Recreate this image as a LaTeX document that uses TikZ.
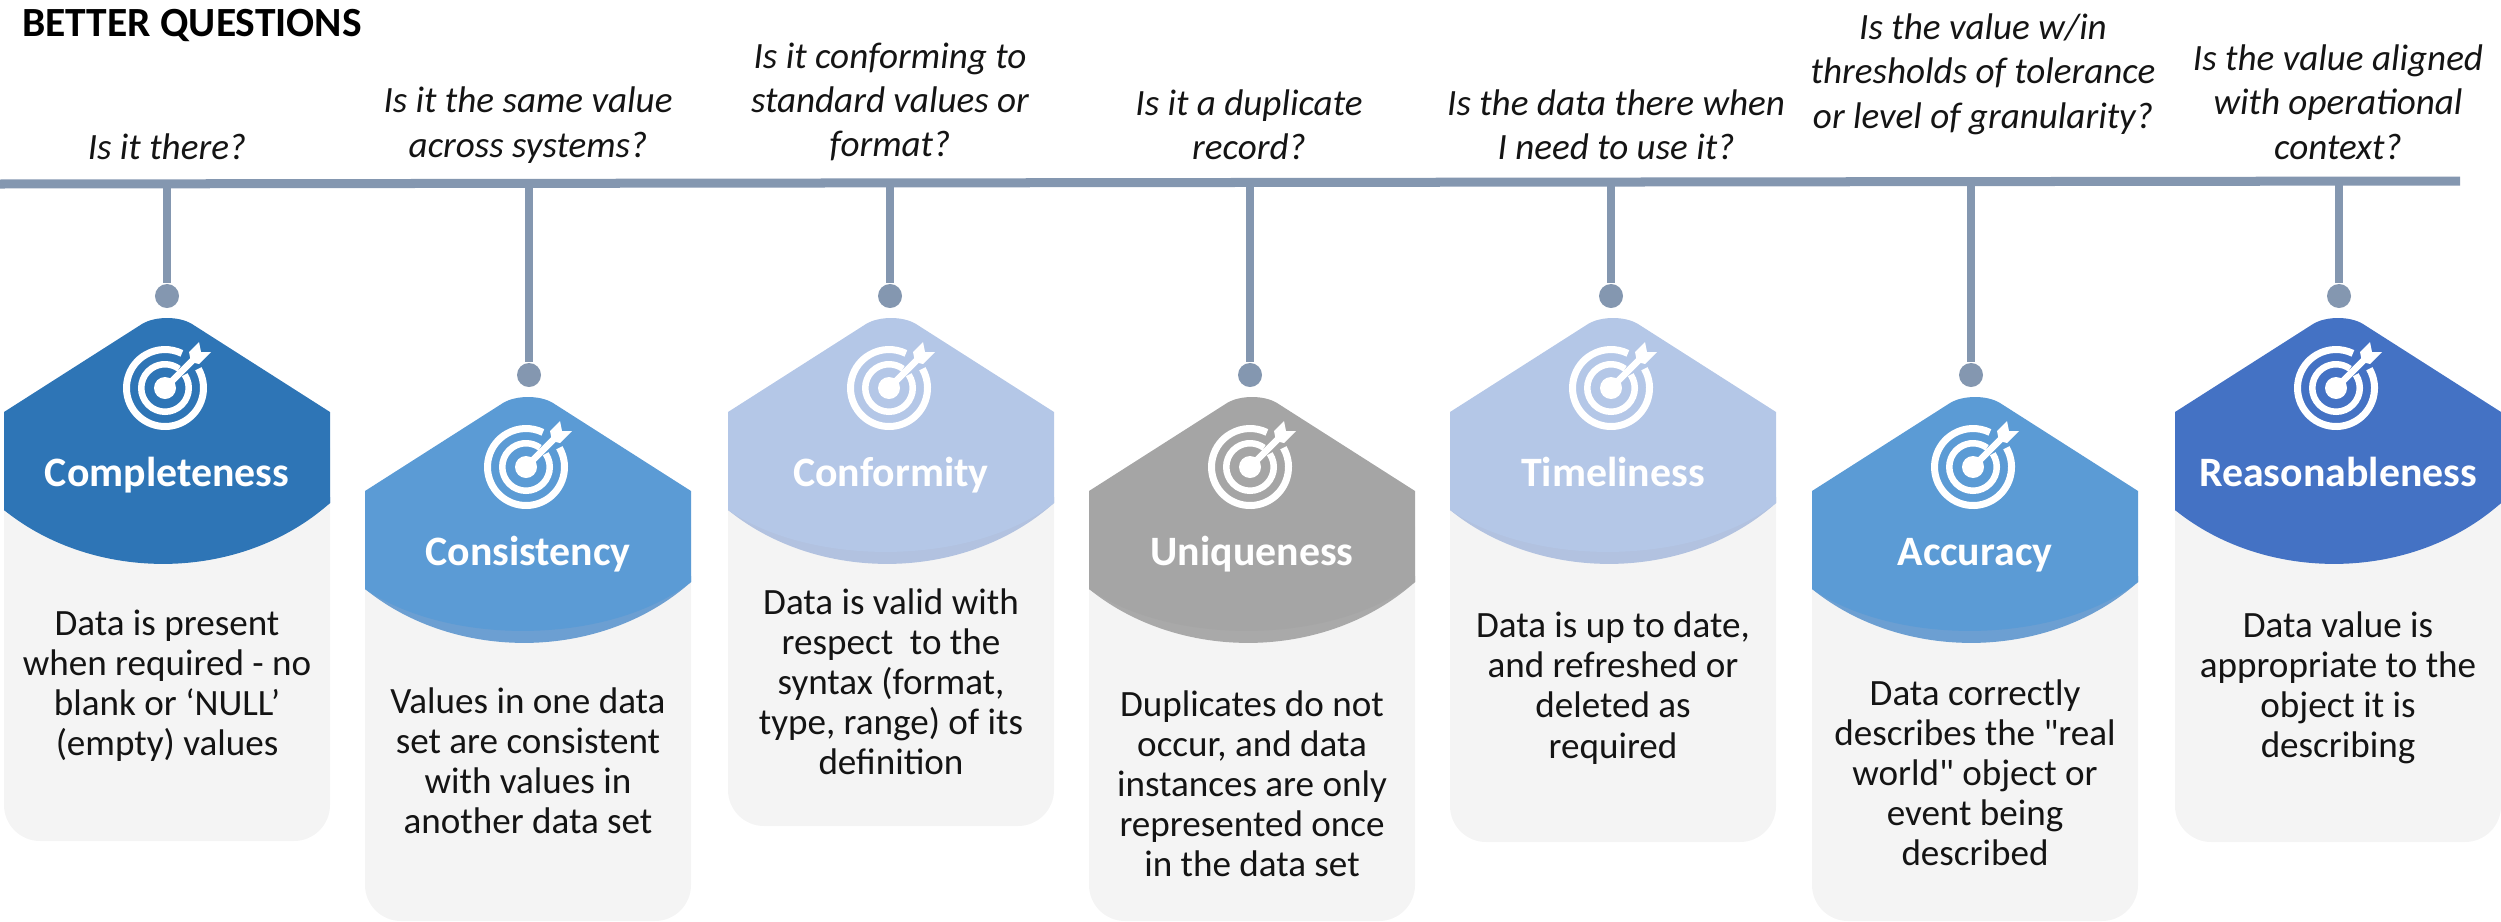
\documentclass[tikz,border=0pt]{standalone}
\usepackage{xcolor}
\usepackage{fontspec}
\setmainfont[Ligatures=TeXOff]{Carlito}
\usepackage{tikz}
\usetikzlibrary{calc}
\definecolor{barblue}{HTML}{8497B0}
\definecolor{cardgrey}{HTML}{F4F4F4}
\definecolor{darkblue}{HTML}{2E75B6}
\definecolor{midblue}{HTML}{5B9BD5}
\definecolor{midedge}{HTML}{6C9FD2}
\definecolor{paleblue}{HTML}{B4C7E7}
\definecolor{paleedge}{HTML}{B2C2E0}
\definecolor{stonegrey}{HTML}{A5A5A5}
\definecolor{stoneedge}{HTML}{A9A9A9}
\definecolor{royalblue}{HTML}{4472C4}
\tikzset{
	bandlabel/.style={text=white, anchor=base, font=\fontsize{11.9}{13}\selectfont\bfseries},
	cardtext/.style={text=black!92, align=center, font=\fontsize{10.55}{11.4}\selectfont},
	question/.style={text=black!92, align=center, font=\fontsize{10.55}{12.6}\selectfont\itshape},
	targeticon/.pic={
		\draw [white, line width=0.07cm] (-30:38.5) arc [start angle=-30, end angle=296, radius=38.5];
		\draw [white, line width=0.065cm] (-34:23.75) arc [start angle=-34, end angle=306, radius=23.75];
		\fill [white] (0,0) circle (11);
		\draw [white, line width=0.065cm] (0,0) -- (30,-30);
		\fill [white] (34,-46) -- (36,-36) -- (46,-36) -- (34,-24) -- (26,-26) -- (24,-36) -- cycle;
	}
}
\begin{document}
\begin{tikzpicture}[x=0.01cm, y=-0.01cm]
		\useasboundingbox (0,0) rectangle (2501,921);
		\node [anchor=west, font=\fontsize{11.8}{13}\selectfont\bfseries] (title) at (10,25) {BETTER QUESTIONS};
		\foreach \nm/\cx/\sx/\ctop/\cbot/\colr/\edgecol/\lbl/\bodyy/\bodytxt/\qx/\qy/\qtxt in {
			compl/167/167/317/841/darkblue/darkblue/Completeness/686/{Data is present\\when required - no\\blank or ‘NULL’\\(empty) values}/167/147/{Is it there?},
			consi/528/529/396/921/midblue/midedge/Consistency/761/{Values in one data\\set are consistent\\with values in\\another data set}/528/125/{Is it the same value\\across systems?},
			confo/891/890/317/826/paleblue/paleedge/Conformity/682/{Data is valid with\\respect\ \ to the\\syntax (format,\\type, range) of its\\definition}/890/102/{Is it conforming to\\standard values or\\format?},
			uniqu/1252/1250/396/921/stonegrey/stoneedge/Uniqueness/784/{Duplicates do not\\occur, and data\\instances are only\\represented once\\in the data set}/1249/125/{Is it a duplicate\\record?},
			timel/1613/1611/317/842/paleblue/paleedge/Timeliness/688/{Data is up to date,\\and refreshed or\\deleted as\\required}/1616/125/{Is the data there when\\I need to use it?},
			accur/1975/1971/396/921/midblue/midedge/Accuracy/773/{Data correctly\\describes the "real\\world" object or\\event being\\described}/1983/74/{Is the value w/in\\thresholds of tolerance\\or level of granularity?},
			reaso/2338/2339/317/842/royalblue/royalblue/Reasonableness/688/{Data value is\\appropriate to the\\object it is\\describing}/2338/102/{Is the value aligned\\with operational\\context?}}
		{
			% card and band
			\fill [cardgrey, rounded corners=0.36cm] (\cx-163,\ctop+95) rectangle (\cx+163,\cbot);
			\fill [\edgecol] (\cx+163,\ctop+186) .. controls (\cx+73,\ctop+266) and (\cx-73,\ctop+266) .. (\cx-163,\ctop+193) -- (\cx-163,\ctop+180) -- (\cx+163,\ctop+180) -- cycle;
			\fill [\colr] (\cx-163,\ctop+95) -- (\cx-25,\ctop+7) .. controls (\cx-12,\ctop-1) and (\cx+12,\ctop-1) .. (\cx+25,\ctop+7) -- (\cx+163,\ctop+95)
				-- (\cx+163,\ctop+186) .. controls (\cx+80,\ctop+250) and (\cx-80,\ctop+250) .. (\cx-163,\ctop+193) -- cycle;
			\pic at (\cx-2,\ctop+71) {targeticon};
			\node [bandlabel] (lbl\nm) at (\cx,\ctop+169) {\lbl};
			\node [cardtext] (txt\nm) at (\cx,\bodyy) {\bodytxt};
			\node [question] (q\nm) at (\qx,\qy) {\qtxt};
			% stem
			\coordinate (top\nm) at (\sx,183);
			\node [circle, fill=barblue, minimum size=0.24cm, inner sep=0pt] (dot\nm) at (\sx,\ctop-21) {};
			\draw [barblue, line width=0.08cm] (top\nm) -- (dot\nm);
		}
		\coordinate (barleft) at (0,184);
		\coordinate (barright) at (2460,181);
		\draw [barblue, line width=0.09cm] (barleft) -- (barright);
\end{tikzpicture}
\end{document}
